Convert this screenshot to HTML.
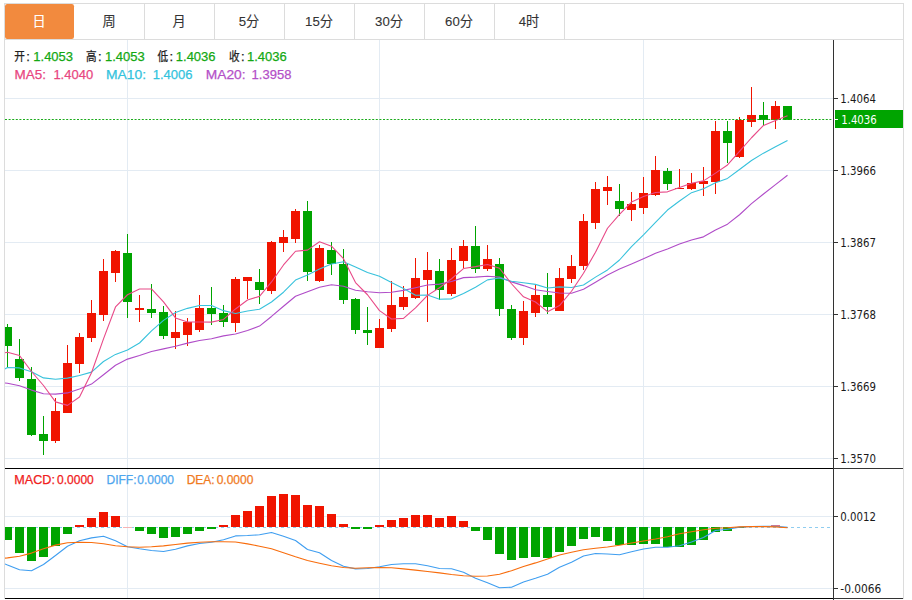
<!DOCTYPE html>
<html><head><meta charset="utf-8"><title>K线图</title>
<style>
html,body{margin:0;padding:0;background:#fff;width:912px;height:600px;overflow:hidden}
svg{display:block;font-family:'Liberation Sans', 'Noto Sans CJK SC', sans-serif}
.h text{stroke-width:0.25px}
</style></head><body>
<svg width="912" height="600" viewBox="0 0 912 600">
<defs>
<clipPath id="cm"><rect x="5" y="40" width="828" height="428"/></clipPath>
<clipPath id="cd"><rect x="5" y="469" width="828" height="129"/></clipPath>
</defs>
<rect x="0" y="0" width="912" height="600" fill="#fff"/>
<rect x="4" y="3" width="900" height="1" fill="#dcdcdc"/>
<rect x="4" y="39" width="900" height="1" fill="#dcdcdc"/>
<rect x="4" y="3" width="1" height="596" fill="#dcdcdc"/>
<rect x="903" y="3" width="1" height="596" fill="#dcdcdc"/>
<rect x="144" y="4" width="1" height="35" fill="#dcdcdc"/>
<rect x="214" y="4" width="1" height="35" fill="#dcdcdc"/>
<rect x="284" y="4" width="1" height="35" fill="#dcdcdc"/>
<rect x="354" y="4" width="1" height="35" fill="#dcdcdc"/>
<rect x="424" y="4" width="1" height="35" fill="#dcdcdc"/>
<rect x="494" y="4" width="1" height="35" fill="#dcdcdc"/>
<rect x="564" y="4" width="1" height="35" fill="#dcdcdc"/>
<rect x="5" y="4" width="69" height="35" rx="2.2" ry="2.2" fill="#f28a3e"/>
<rect x="5" y="98" width="828" height="1" fill="#e3ebf3"/>
<rect x="5" y="170" width="828" height="1" fill="#e3ebf3"/>
<rect x="5" y="242" width="828" height="1" fill="#e3ebf3"/>
<rect x="5" y="314" width="828" height="1" fill="#e3ebf3"/>
<rect x="5" y="386" width="828" height="1" fill="#e3ebf3"/>
<rect x="5" y="458" width="828" height="1" fill="#e3ebf3"/>
<rect x="5" y="516" width="828" height="1" fill="#e3ebf3"/>
<rect x="5" y="588" width="828" height="1" fill="#e3ebf3"/>
<rect x="127" y="40" width="1" height="428" fill="#e3ebf3"/>
<rect x="127" y="469" width="1" height="129" fill="#e3ebf3"/>
<rect x="379" y="40" width="1" height="428" fill="#e3ebf3"/>
<rect x="379" y="469" width="1" height="129" fill="#e3ebf3"/>
<rect x="643" y="40" width="1" height="428" fill="#e3ebf3"/>
<rect x="643" y="469" width="1" height="129" fill="#e3ebf3"/>
<g clip-path="url(#cm)">
<rect x="7" y="324" width="1" height="43" fill="#00a400"/>
<rect x="3" y="327" width="9" height="19" fill="#00a400"/>
<rect x="19" y="339" width="1" height="42" fill="#00a400"/>
<rect x="15" y="359" width="9" height="19" fill="#00a400"/>
<rect x="31" y="367" width="1" height="69" fill="#00a400"/>
<rect x="27" y="379" width="9" height="56" fill="#00a400"/>
<rect x="43" y="416" width="1" height="39" fill="#00a400"/>
<rect x="39" y="434" width="9" height="7" fill="#00a400"/>
<rect x="55" y="398" width="1" height="45" fill="#f01400"/>
<rect x="51" y="411" width="9" height="30" fill="#f01400"/>
<rect x="67" y="345" width="1" height="68" fill="#f01400"/>
<rect x="63" y="363" width="9" height="50" fill="#f01400"/>
<rect x="79" y="333" width="1" height="40" fill="#f01400"/>
<rect x="75" y="337" width="9" height="27" fill="#f01400"/>
<rect x="91" y="300" width="1" height="42" fill="#f01400"/>
<rect x="87" y="313" width="9" height="25" fill="#f01400"/>
<rect x="103" y="259" width="1" height="62" fill="#f01400"/>
<rect x="99" y="271" width="9" height="44" fill="#f01400"/>
<rect x="115" y="250" width="1" height="32" fill="#f01400"/>
<rect x="111" y="251" width="9" height="22" fill="#f01400"/>
<rect x="127" y="234" width="1" height="84" fill="#00a400"/>
<rect x="123" y="253" width="9" height="49" fill="#00a400"/>
<rect x="139" y="295" width="1" height="27" fill="#f01400"/>
<rect x="135" y="308" width="9" height="2" fill="#f01400"/>
<rect x="151" y="284" width="1" height="34" fill="#00a400"/>
<rect x="147" y="309" width="9" height="4" fill="#00a400"/>
<rect x="163" y="306" width="1" height="33" fill="#00a400"/>
<rect x="159" y="312" width="9" height="24" fill="#00a400"/>
<rect x="175" y="311" width="1" height="38" fill="#f01400"/>
<rect x="171" y="332" width="9" height="6" fill="#f01400"/>
<rect x="187" y="318" width="1" height="28" fill="#f01400"/>
<rect x="183" y="322" width="9" height="13" fill="#f01400"/>
<rect x="199" y="295" width="1" height="37" fill="#f01400"/>
<rect x="195" y="308" width="9" height="22" fill="#f01400"/>
<rect x="211" y="287" width="1" height="38" fill="#00a400"/>
<rect x="207" y="308" width="9" height="6" fill="#00a400"/>
<rect x="223" y="305" width="1" height="22" fill="#00a400"/>
<rect x="219" y="313" width="9" height="9" fill="#00a400"/>
<rect x="235" y="277" width="1" height="55" fill="#f01400"/>
<rect x="231" y="279" width="9" height="44" fill="#f01400"/>
<rect x="247" y="277" width="1" height="22" fill="#f01400"/>
<rect x="243" y="277" width="9" height="4" fill="#f01400"/>
<rect x="259" y="269" width="1" height="35" fill="#00a400"/>
<rect x="255" y="282" width="9" height="8" fill="#00a400"/>
<rect x="271" y="241" width="1" height="53" fill="#f01400"/>
<rect x="267" y="242" width="9" height="49" fill="#f01400"/>
<rect x="283" y="230" width="1" height="22" fill="#f01400"/>
<rect x="279" y="237" width="9" height="6" fill="#f01400"/>
<rect x="295" y="209" width="1" height="34" fill="#f01400"/>
<rect x="291" y="211" width="9" height="28" fill="#f01400"/>
<rect x="307" y="201" width="1" height="80" fill="#00a400"/>
<rect x="303" y="211" width="9" height="61" fill="#00a400"/>
<rect x="319" y="245" width="1" height="37" fill="#f01400"/>
<rect x="315" y="248" width="9" height="33" fill="#f01400"/>
<rect x="331" y="242" width="1" height="33" fill="#00a400"/>
<rect x="327" y="250" width="9" height="14" fill="#00a400"/>
<rect x="343" y="249" width="1" height="55" fill="#00a400"/>
<rect x="339" y="264" width="9" height="36" fill="#00a400"/>
<rect x="355" y="298" width="1" height="36" fill="#00a400"/>
<rect x="351" y="299" width="9" height="31" fill="#00a400"/>
<rect x="367" y="307" width="1" height="38" fill="#00a400"/>
<rect x="363" y="330" width="9" height="3" fill="#00a400"/>
<rect x="379" y="319" width="1" height="29" fill="#f01400"/>
<rect x="375" y="328" width="9" height="20" fill="#f01400"/>
<rect x="391" y="281" width="1" height="51" fill="#f01400"/>
<rect x="387" y="305" width="9" height="24" fill="#f01400"/>
<rect x="403" y="286" width="1" height="24" fill="#f01400"/>
<rect x="399" y="297" width="9" height="10" fill="#f01400"/>
<rect x="415" y="258" width="1" height="41" fill="#f01400"/>
<rect x="411" y="278" width="9" height="20" fill="#f01400"/>
<rect x="427" y="252" width="1" height="70" fill="#f01400"/>
<rect x="423" y="270" width="9" height="10" fill="#f01400"/>
<rect x="439" y="259" width="1" height="41" fill="#00a400"/>
<rect x="435" y="271" width="9" height="19" fill="#00a400"/>
<rect x="451" y="248" width="1" height="48" fill="#f01400"/>
<rect x="447" y="260" width="9" height="34" fill="#f01400"/>
<rect x="463" y="240" width="1" height="28" fill="#f01400"/>
<rect x="459" y="246" width="9" height="15" fill="#f01400"/>
<rect x="475" y="226" width="1" height="47" fill="#00a400"/>
<rect x="471" y="246" width="9" height="23" fill="#00a400"/>
<rect x="487" y="245" width="1" height="26" fill="#f01400"/>
<rect x="483" y="259" width="9" height="10" fill="#f01400"/>
<rect x="499" y="258" width="1" height="58" fill="#00a400"/>
<rect x="495" y="264" width="9" height="45" fill="#00a400"/>
<rect x="511" y="305" width="1" height="35" fill="#00a400"/>
<rect x="507" y="309" width="9" height="29" fill="#00a400"/>
<rect x="523" y="301" width="1" height="44" fill="#f01400"/>
<rect x="519" y="311" width="9" height="27" fill="#f01400"/>
<rect x="535" y="285" width="1" height="32" fill="#f01400"/>
<rect x="531" y="295" width="9" height="18" fill="#f01400"/>
<rect x="547" y="273" width="1" height="41" fill="#00a400"/>
<rect x="543" y="295" width="9" height="12" fill="#00a400"/>
<rect x="559" y="268" width="1" height="43" fill="#f01400"/>
<rect x="555" y="278" width="9" height="33" fill="#f01400"/>
<rect x="571" y="255" width="1" height="28" fill="#f01400"/>
<rect x="567" y="266" width="9" height="13" fill="#f01400"/>
<rect x="583" y="214" width="1" height="56" fill="#f01400"/>
<rect x="579" y="221" width="9" height="45" fill="#f01400"/>
<rect x="595" y="182" width="1" height="47" fill="#f01400"/>
<rect x="591" y="189" width="9" height="34" fill="#f01400"/>
<rect x="607" y="176" width="1" height="29" fill="#f01400"/>
<rect x="603" y="187" width="9" height="4" fill="#f01400"/>
<rect x="619" y="184" width="1" height="32" fill="#00a400"/>
<rect x="615" y="201" width="9" height="8" fill="#00a400"/>
<rect x="631" y="192" width="1" height="29" fill="#f01400"/>
<rect x="627" y="204" width="9" height="6" fill="#f01400"/>
<rect x="643" y="177" width="1" height="37" fill="#f01400"/>
<rect x="639" y="193" width="9" height="15" fill="#f01400"/>
<rect x="655" y="156" width="1" height="40" fill="#f01400"/>
<rect x="651" y="170" width="9" height="25" fill="#f01400"/>
<rect x="667" y="168" width="1" height="22" fill="#00a400"/>
<rect x="663" y="171" width="9" height="13" fill="#00a400"/>
<rect x="679" y="169" width="1" height="20" fill="#f01400"/>
<rect x="675" y="188" width="9" height="1" fill="#f01400"/>
<rect x="691" y="173" width="1" height="17" fill="#f01400"/>
<rect x="687" y="183" width="9" height="6" fill="#f01400"/>
<rect x="703" y="167" width="1" height="29" fill="#f01400"/>
<rect x="699" y="181" width="9" height="3" fill="#f01400"/>
<rect x="715" y="121" width="1" height="73" fill="#f01400"/>
<rect x="711" y="131" width="9" height="51" fill="#f01400"/>
<rect x="727" y="121" width="1" height="42" fill="#00a400"/>
<rect x="723" y="131" width="9" height="12" fill="#00a400"/>
<rect x="739" y="117" width="1" height="41" fill="#f01400"/>
<rect x="735" y="120" width="9" height="37" fill="#f01400"/>
<rect x="751" y="87" width="1" height="40" fill="#f01400"/>
<rect x="747" y="115" width="9" height="7" fill="#f01400"/>
<rect x="763" y="102" width="1" height="23" fill="#00a400"/>
<rect x="759" y="115" width="9" height="5" fill="#00a400"/>
<rect x="775" y="101" width="1" height="28" fill="#f01400"/>
<rect x="771" y="106" width="9" height="14" fill="#f01400"/>
<rect x="787" y="106" width="1" height="14" fill="#00a400"/>
<rect x="783" y="106" width="9" height="14" fill="#00a400"/>
</g>
<polyline clip-path="url(#cm)" points="-4.5,382.00 7.5,383.30 19.5,385.70 31.5,390.10 43.5,393.70 55.5,394.10 67.5,392.90 79.5,388.90 91.5,384.10 103.5,374.70 115.5,365.30 127.5,359.10 139.5,355.50 151.5,351.50 163.5,348.90 175.5,346.30 187.5,343.10 199.5,340.50 211.5,338.70 223.5,335.90 235.5,333.93 247.5,330.50 259.5,326.10 271.5,316.45 283.5,306.28 295.5,296.28 307.5,291.70 319.5,287.28 331.5,284.80 343.5,286.23 355.5,290.18 367.5,291.70 379.5,292.70 391.5,292.30 403.5,290.35 415.5,287.68 427.5,285.05 439.5,284.12 451.5,281.45 463.5,277.62 475.5,277.10 487.5,276.18 499.5,277.10 511.5,281.90 523.5,285.60 535.5,289.80 547.5,291.55 559.5,293.05 571.5,293.18 583.5,289.25 595.5,282.20 607.5,274.93 619.5,269.00 631.5,263.95 643.5,258.78 655.5,253.35 667.5,249.05 679.5,243.95 691.5,240.08 703.5,236.85 715.5,229.98 727.5,224.18 739.5,214.73 751.5,203.58 763.5,194.00 775.5,184.58 787.5,175.23" fill="none" stroke="#b04cc8" stroke-width="1.1" stroke-linejoin="round"/>
<polyline clip-path="url(#cm)" points="-4.5,374.50 7.5,367.50 19.5,367.90 31.5,371.70 43.5,377.90 55.5,379.30 67.5,378.10 79.5,375.50 91.5,372.10 103.5,361.50 115.5,354.40 127.5,350.05 139.5,343.00 151.5,330.85 163.5,320.35 175.5,312.45 187.5,308.35 199.5,305.50 211.5,305.55 223.5,310.65 235.5,313.45 247.5,310.95 259.5,309.20 271.5,302.05 283.5,292.20 295.5,280.10 307.5,275.05 319.5,269.05 331.5,264.05 343.5,261.80 355.5,266.90 367.5,272.45 379.5,276.20 391.5,282.55 403.5,288.50 415.5,295.25 427.5,295.05 439.5,299.20 451.5,298.85 463.5,293.45 475.5,287.30 487.5,279.90 499.5,278.00 511.5,281.25 523.5,282.70 535.5,284.35 547.5,288.05 559.5,286.90 571.5,287.50 583.5,285.05 595.5,277.10 607.5,269.95 619.5,260.00 631.5,246.65 643.5,234.85 655.5,222.35 667.5,210.05 679.5,201.00 691.5,192.65 703.5,188.65 715.5,182.85 727.5,178.40 739.5,169.45 751.5,160.50 763.5,153.15 775.5,146.80 787.5,140.40" fill="none" stroke="#38c2dc" stroke-width="1.1" stroke-linejoin="round"/>
<polyline clip-path="url(#cm)" points="-4.5,354.50 7.5,352.30 19.5,355.50 31.5,371.50 43.5,385.50 55.5,401.85 67.5,405.35 79.5,397.05 91.5,372.75 103.5,338.85 115.5,306.95 127.5,294.75 139.5,288.95 151.5,288.95 163.5,301.85 175.5,317.95 187.5,321.95 199.5,322.05 211.5,322.15 223.5,319.45 235.5,308.95 247.5,299.95 259.5,296.35 271.5,281.95 283.5,264.95 295.5,251.25 307.5,250.15 319.5,241.75 331.5,246.15 343.5,258.65 355.5,282.55 367.5,294.75 379.5,310.65 391.5,318.95 403.5,318.35 415.5,307.95 427.5,295.35 439.5,287.75 451.5,278.75 463.5,268.55 475.5,266.65 487.5,264.45 499.5,268.25 511.5,283.75 523.5,296.85 535.5,302.05 547.5,311.65 559.5,305.55 571.5,291.25 583.5,273.25 595.5,252.15 607.5,228.25 619.5,214.45 631.5,202.05 643.5,196.45 655.5,192.55 667.5,191.85 679.5,187.55 691.5,183.25 703.5,180.85 715.5,173.15 727.5,164.95 739.5,151.35 751.5,137.75 763.5,125.45 775.5,120.45 787.5,115.85" fill="none" stroke="#e84a88" stroke-width="1.1" stroke-linejoin="round"/>
<line x1="5" y1="119.5" x2="833" y2="119.5" stroke="#1aab1a" stroke-width="1" stroke-dasharray="2 1.6"/>
<line x1="5" y1="527.5" x2="832" y2="527.5" stroke="#8fcdf0" stroke-width="1" stroke-dasharray="3 3"/>
<g clip-path="url(#cd)">
<rect x="3" y="527" width="9" height="13" fill="#00a400"/>
<rect x="15" y="527" width="9" height="26" fill="#00a400"/>
<rect x="27" y="527" width="9" height="34" fill="#00a400"/>
<rect x="39" y="527" width="9" height="30" fill="#00a400"/>
<rect x="51" y="527" width="9" height="19" fill="#00a400"/>
<rect x="63" y="527" width="9" height="7" fill="#00a400"/>
<rect x="75" y="525" width="9" height="2" fill="#f01400"/>
<rect x="87" y="518" width="9" height="9" fill="#f01400"/>
<rect x="99" y="512" width="9" height="15" fill="#f01400"/>
<rect x="111" y="516" width="9" height="11" fill="#f01400"/>
<rect x="123" y="527" width="9" height="1" fill="#f7b4b4"/>
<rect x="135" y="527" width="9" height="4" fill="#00a400"/>
<rect x="147" y="527" width="9" height="7" fill="#00a400"/>
<rect x="159" y="527" width="9" height="11" fill="#00a400"/>
<rect x="171" y="527" width="9" height="10" fill="#00a400"/>
<rect x="183" y="527" width="9" height="7" fill="#00a400"/>
<rect x="195" y="527" width="9" height="4" fill="#00a400"/>
<rect x="207" y="527" width="9" height="2" fill="#00a400"/>
<rect x="219" y="525" width="9" height="2" fill="#f01400"/>
<rect x="231" y="515" width="9" height="12" fill="#f01400"/>
<rect x="243" y="511" width="9" height="16" fill="#f01400"/>
<rect x="255" y="506" width="9" height="21" fill="#f01400"/>
<rect x="267" y="496" width="9" height="31" fill="#f01400"/>
<rect x="279" y="494" width="9" height="33" fill="#f01400"/>
<rect x="291" y="495" width="9" height="32" fill="#f01400"/>
<rect x="303" y="505" width="9" height="22" fill="#f01400"/>
<rect x="315" y="506" width="9" height="21" fill="#f01400"/>
<rect x="327" y="514" width="9" height="13" fill="#f01400"/>
<rect x="339" y="524" width="9" height="3" fill="#f01400"/>
<rect x="351" y="527" width="9" height="2" fill="#00a400"/>
<rect x="363" y="527" width="9" height="2" fill="#00a400"/>
<rect x="375" y="525" width="9" height="2" fill="#f01400"/>
<rect x="387" y="520" width="9" height="7" fill="#f01400"/>
<rect x="399" y="518" width="9" height="9" fill="#f01400"/>
<rect x="411" y="515" width="9" height="12" fill="#f01400"/>
<rect x="423" y="515" width="9" height="12" fill="#f01400"/>
<rect x="435" y="518" width="9" height="9" fill="#f01400"/>
<rect x="447" y="516" width="9" height="11" fill="#f01400"/>
<rect x="459" y="521" width="9" height="6" fill="#f01400"/>
<rect x="471" y="527" width="9" height="4" fill="#00a400"/>
<rect x="483" y="527" width="9" height="13" fill="#00a400"/>
<rect x="495" y="527" width="9" height="27" fill="#00a400"/>
<rect x="507" y="527" width="9" height="33" fill="#00a400"/>
<rect x="519" y="527" width="9" height="31" fill="#00a400"/>
<rect x="531" y="527" width="9" height="30" fill="#00a400"/>
<rect x="543" y="527" width="9" height="31" fill="#00a400"/>
<rect x="555" y="527" width="9" height="25" fill="#00a400"/>
<rect x="567" y="527" width="9" height="19" fill="#00a400"/>
<rect x="579" y="527" width="9" height="12" fill="#00a400"/>
<rect x="591" y="527" width="9" height="10" fill="#00a400"/>
<rect x="603" y="527" width="9" height="14" fill="#00a400"/>
<rect x="615" y="527" width="9" height="18" fill="#00a400"/>
<rect x="627" y="527" width="9" height="18" fill="#00a400"/>
<rect x="639" y="527" width="9" height="17" fill="#00a400"/>
<rect x="651" y="527" width="9" height="17" fill="#00a400"/>
<rect x="663" y="527" width="9" height="20" fill="#00a400"/>
<rect x="675" y="527" width="9" height="20" fill="#00a400"/>
<rect x="687" y="527" width="9" height="18" fill="#00a400"/>
<rect x="699" y="527" width="9" height="13" fill="#00a400"/>
<rect x="711" y="527" width="9" height="5" fill="#00a400"/>
<rect x="723" y="527" width="9" height="4" fill="#00a400"/>
<rect x="735" y="527" width="9" height="1" fill="#00a400"/>
<rect x="771" y="525" width="9" height="2" fill="#e87080"/>
</g>
<polyline clip-path="url(#cd)" points="-4.5,559.90 7.5,565.10 19.5,569.80 31.5,570.80 43.5,564.50 55.5,555.50 67.5,546.20 79.5,540.80 91.5,537.90 103.5,536.20 115.5,540.80 127.5,546.80 139.5,548.80 151.5,550.50 163.5,551.50 175.5,549.20 187.5,545.90 199.5,543.50 211.5,542.20 223.5,539.70 235.5,535.90 247.5,535.50 259.5,534.80 271.5,532.50 283.5,536.20 295.5,540.50 307.5,549.50 319.5,552.80 331.5,560.50 343.5,566.20 355.5,568.90 367.5,568.50 379.5,566.80 391.5,564.50 403.5,563.80 415.5,563.80 427.5,565.80 439.5,568.50 451.5,568.80 463.5,572.25 475.5,578.25 487.5,582.75 499.5,587.70 511.5,587.25 523.5,582.00 535.5,578.25 547.5,574.20 559.5,567.30 571.5,562.20 583.5,556.00 595.5,553.50 607.5,554.00 619.5,554.70 631.5,551.70 643.5,549.00 655.5,547.20 667.5,547.20 679.5,545.80 691.5,542.00 703.5,537.40 715.5,530.50 727.5,529.20 739.5,527.10 751.5,526.50 763.5,526.30 775.5,526.30 787.5,527.40" fill="none" stroke="#3f9ef0" stroke-width="1.1" stroke-linejoin="round"/>
<polyline clip-path="url(#cd)" points="-4.5,559.10 7.5,557.90 19.5,556.20 31.5,553.10 43.5,548.80 55.5,545.10 67.5,542.80 79.5,542.20 91.5,542.50 103.5,543.80 115.5,545.70 127.5,546.80 139.5,547.20 151.5,546.80 163.5,545.90 175.5,544.50 187.5,543.10 199.5,542.20 211.5,541.80 223.5,541.70 235.5,542.00 247.5,543.90 259.5,546.20 271.5,548.80 283.5,552.80 295.5,556.80 307.5,560.50 319.5,563.20 331.5,565.80 343.5,567.50 355.5,568.20 367.5,567.80 379.5,567.50 391.5,567.80 403.5,568.90 415.5,570.10 427.5,571.50 439.5,572.90 451.5,574.50 463.5,575.70 475.5,576.30 487.5,576.00 499.5,574.20 511.5,570.75 523.5,566.50 535.5,562.90 547.5,559.00 559.5,555.00 571.5,552.30 583.5,549.75 595.5,548.25 607.5,547.00 619.5,545.25 631.5,543.00 643.5,541.00 655.5,539.00 667.5,536.70 679.5,533.80 691.5,531.70 703.5,529.70 715.5,528.20 727.5,527.70 739.5,526.90 751.5,526.60 763.5,526.60 775.5,526.90 787.5,527.80" fill="none" stroke="#f86c0c" stroke-width="1.1" stroke-linejoin="round"/>
<rect x="833" y="40" width="1" height="560" fill="#333333"/>
<rect x="5" y="468" width="828" height="1" fill="#000"/>
<rect x="834" y="468" width="69" height="1" fill="#333333"/>
<rect x="5" y="598" width="828" height="1" fill="#000"/>
<rect x="834" y="598" width="69" height="1" fill="#333333"/>
<rect x="834" y="98" width="4" height="1" fill="#333333"/>
<text x="840.3" y="102.6" font-size="12" style="font-family:'DejaVu Sans', sans-serif;font-stretch:condensed" textLength="35.6" lengthAdjust="spacingAndGlyphs" fill="#1a1a1a">1.4064</text>
<rect x="834" y="170" width="4" height="1" fill="#333333"/>
<text x="840.3" y="174.6" font-size="12" style="font-family:'DejaVu Sans', sans-serif;font-stretch:condensed" textLength="35.6" lengthAdjust="spacingAndGlyphs" fill="#1a1a1a">1.3966</text>
<rect x="834" y="242" width="4" height="1" fill="#333333"/>
<text x="840.3" y="246.6" font-size="12" style="font-family:'DejaVu Sans', sans-serif;font-stretch:condensed" textLength="35.6" lengthAdjust="spacingAndGlyphs" fill="#1a1a1a">1.3867</text>
<rect x="834" y="314" width="4" height="1" fill="#333333"/>
<text x="840.3" y="318.6" font-size="12" style="font-family:'DejaVu Sans', sans-serif;font-stretch:condensed" textLength="35.6" lengthAdjust="spacingAndGlyphs" fill="#1a1a1a">1.3768</text>
<rect x="834" y="386" width="4" height="1" fill="#333333"/>
<text x="840.3" y="390.6" font-size="12" style="font-family:'DejaVu Sans', sans-serif;font-stretch:condensed" textLength="35.6" lengthAdjust="spacingAndGlyphs" fill="#1a1a1a">1.3669</text>
<rect x="834" y="458" width="4" height="1" fill="#333333"/>
<text x="840.3" y="462.6" font-size="12" style="font-family:'DejaVu Sans', sans-serif;font-stretch:condensed" textLength="35.6" lengthAdjust="spacingAndGlyphs" fill="#1a1a1a">1.3570</text>
<rect x="834" y="516" width="4" height="1" fill="#333333"/>
<text x="840.3" y="520.6" font-size="12" style="font-family:'DejaVu Sans', sans-serif;font-stretch:condensed" textLength="35.6" lengthAdjust="spacingAndGlyphs" fill="#1a1a1a">0.0012</text>
<rect x="834" y="588" width="4" height="1" fill="#333333"/>
<text x="840.3" y="592.6" font-size="12" style="font-family:'DejaVu Sans', sans-serif;font-stretch:condensed" textLength="41" lengthAdjust="spacingAndGlyphs" fill="#1a1a1a">-0.0066</text>
<rect x="835" y="110" width="68" height="18" fill="#00a400"/>
<rect x="834" y="119" width="4" height="1" fill="#ffffff"/>
<text x="841.2" y="123.8" font-size="12" style="font-family:'DejaVu Sans', sans-serif;font-stretch:condensed" textLength="35.6" lengthAdjust="spacingAndGlyphs" fill="#fff">1.4036</text>
<g class="h">
<text x="14.3" y="61.1" font-size="12.5" textLength="10.6" lengthAdjust="spacingAndGlyphs" fill="#222222" stroke="#222222">开</text><text x="26.2" y="60.6" font-size="13" fill="#222222" stroke="#222222">:</text><text x="33.3" y="60.6" font-size="13" fill="#13a813" stroke="#13a813">1.4053</text>
<text x="86.1" y="61.1" font-size="12.5" textLength="10.6" lengthAdjust="spacingAndGlyphs" fill="#222222" stroke="#222222">高</text><text x="98.0" y="60.6" font-size="13" fill="#222222" stroke="#222222">:</text><text x="105" y="60.6" font-size="13" fill="#13a813" stroke="#13a813">1.4053</text>
<text x="157.6" y="61.1" font-size="12.5" textLength="10.6" lengthAdjust="spacingAndGlyphs" fill="#222222" stroke="#222222">低</text><text x="169.5" y="60.6" font-size="13" fill="#222222" stroke="#222222">:</text><text x="175.8" y="60.6" font-size="13" fill="#13a813" stroke="#13a813">1.4036</text>
<text x="229.1" y="61.1" font-size="12.5" textLength="10.6" lengthAdjust="spacingAndGlyphs" fill="#222222" stroke="#222222">收</text><text x="241.0" y="60.6" font-size="13" fill="#222222" stroke="#222222">:</text><text x="247" y="60.6" font-size="13" fill="#13a813" stroke="#13a813">1.4036</text>
<text x="14.5" y="78.7" font-size="13" fill="#e8467f" stroke="#e8467f" textLength="31.4" lengthAdjust="spacingAndGlyphs">MA5:</text><text x="53.4" y="78.7" font-size="13" fill="#e8467f" stroke="#e8467f">1.4040</text>
<text x="106.1" y="78.7" font-size="13" fill="#33c3dd" stroke="#33c3dd" textLength="40" lengthAdjust="spacingAndGlyphs">MA10:</text><text x="152.7" y="78.7" font-size="13" fill="#33c3dd" stroke="#33c3dd">1.4006</text>
<text x="205.8" y="78.7" font-size="13" fill="#b450c8" stroke="#b450c8" textLength="39.8" lengthAdjust="spacingAndGlyphs">MA20:</text><text x="251.6" y="78.7" font-size="13" fill="#b450c8" stroke="#b450c8">1.3958</text>
<text x="14.3" y="484" font-size="12" fill="#f02020" stroke="#f02020" textLength="40.6" lengthAdjust="spacingAndGlyphs">MACD:</text><text x="57.1" y="484" font-size="12" fill="#f02020" stroke="#f02020">0.0000</text>
<text x="106.5" y="484" font-size="12" fill="#4ea6ee" stroke="#4ea6ee">DIFF:</text><text x="137.3" y="484" font-size="12" fill="#4ea6ee" stroke="#4ea6ee">0.0000</text>
<text x="186.7" y="484" font-size="12" fill="#f07a1e" stroke="#f07a1e">DEA:</text><text x="216.7" y="484" font-size="12" fill="#f07a1e" stroke="#f07a1e">0.0000</text>
</g>
<text x="39.0" y="25.8" font-size="13.2" fill="#ffffff" stroke="#ffffff" stroke-width="0.1" text-anchor="middle">日</text>
<text x="109.0" y="25.8" font-size="13.2" fill="#333333" stroke="#333333" stroke-width="0.1" text-anchor="middle">周</text>
<text x="179.0" y="25.8" font-size="13.2" fill="#333333" stroke="#333333" stroke-width="0.1" text-anchor="middle">月</text>
<text x="249.0" y="25.8" font-size="13.2" fill="#333333" stroke="#333333" stroke-width="0.1" text-anchor="middle">5分</text>
<text x="319.0" y="25.8" font-size="13.2" fill="#333333" stroke="#333333" stroke-width="0.1" text-anchor="middle">15分</text>
<text x="389.0" y="25.8" font-size="13.2" fill="#333333" stroke="#333333" stroke-width="0.1" text-anchor="middle">30分</text>
<text x="459.0" y="25.8" font-size="13.2" fill="#333333" stroke="#333333" stroke-width="0.1" text-anchor="middle">60分</text>
<text x="529.0" y="25.8" font-size="13.2" fill="#333333" stroke="#333333" stroke-width="0.1" text-anchor="middle">4时</text>

</svg>
</body></html>
